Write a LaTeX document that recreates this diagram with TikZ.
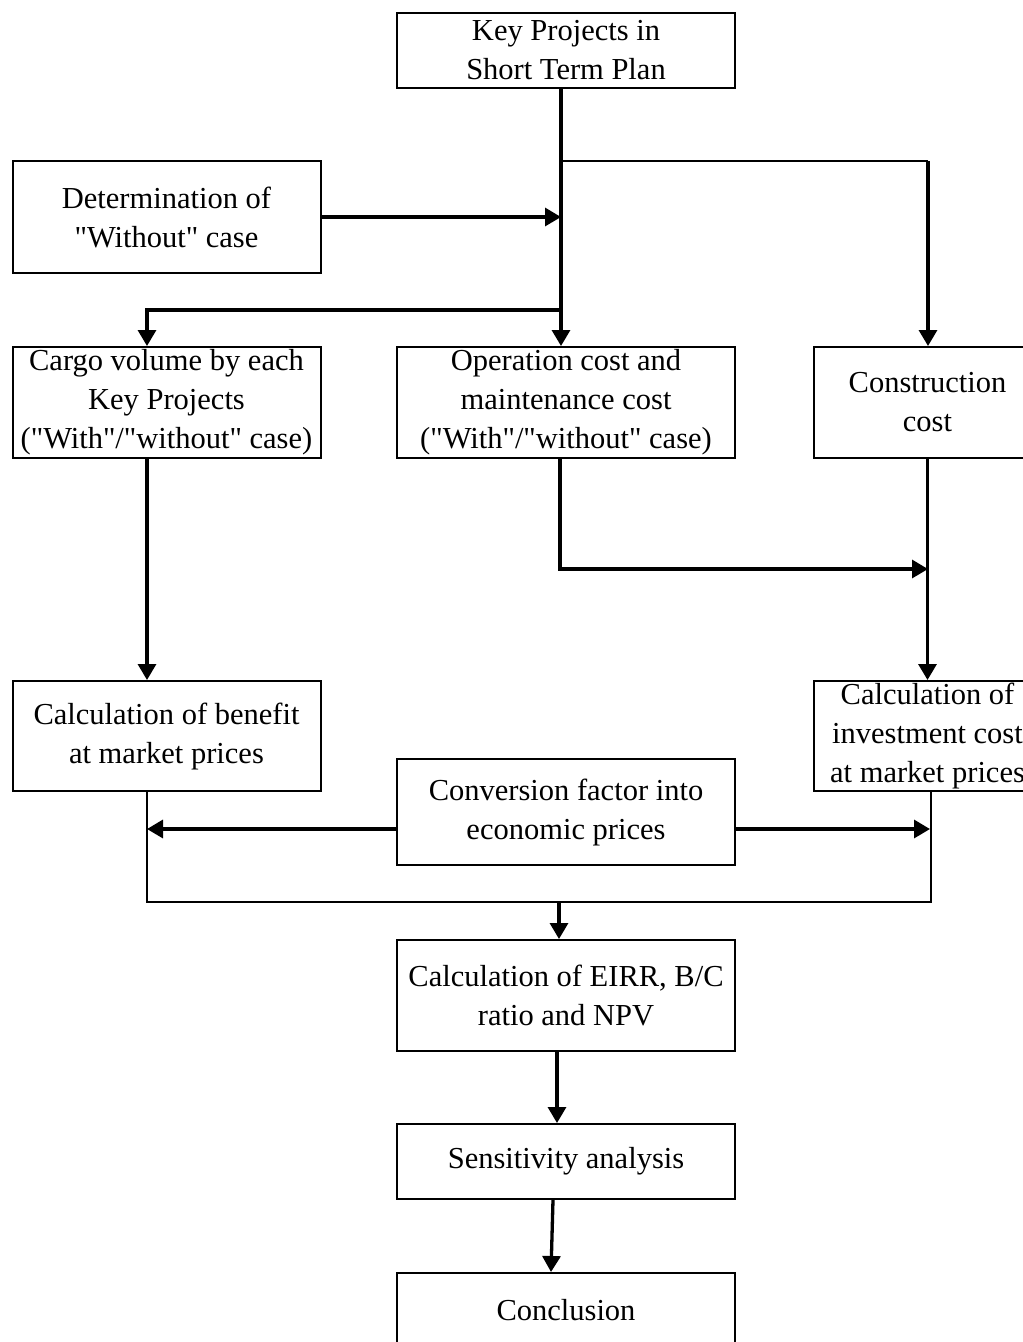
\documentclass[tikz,border=0pt]{standalone}
\usepackage{fontspec}
\setmainfont[Ligatures=TeXOff]{Liberation Serif}
\usetikzlibrary{arrows.meta}
\newcommand\dqt{\symbol{34}}
\begin{document}
\begin{tikzpicture}[x=1pt,y=-1pt,
  box/.style={draw=black,line width=2pt,rectangle,inner sep=0pt,align=center,
    font=\fontsize{30.5}{39}\selectfont},
  thk/.style={line width=3.3pt},
  thn/.style={line width=1.7pt},
  arr/.style={-{Triangle[length=16pt,width=18pt]}}]
\useasboundingbox (0,0) rectangle (1023,1342);
\node[box,minimum width=338pt,minimum height=75pt] (kp) at (566,50.5) {Key Projects in\\Short Term Plan};
\node[box,minimum width=308pt,minimum height=112pt] (det) at (166.5,217) {Determination of\\\dqt Without\dqt{} case};
\node[box,minimum width=308pt,minimum height=111pt] (cargo) at (166.5,402.5) {Cargo volume by each\\Key Projects\\(\dqt With\dqt/\dqt without\dqt{} case)};
\node[box,minimum width=338pt,minimum height=111pt] (op) at (566,402.5) {Operation cost and\\maintenance cost\\(\dqt With\dqt/\dqt without\dqt{} case)};
\node[box,minimum width=228pt,minimum height=111pt] (con) at (927.5,402.5) {Construction\\cost};
\node[box,minimum width=308pt,minimum height=110pt] (ben) at (166.5,736) {Calculation of benefit\\at market prices};
\node[box,minimum width=228pt,minimum height=110pt] (inv) at (927.5,736) {Calculation of\\investment cost\\at market prices};
\node[box,minimum width=338pt,minimum height=106pt] (conv) at (566,812) {Conversion factor into\\economic prices};
\node[box,minimum width=338pt,minimum height=111pt] (eirr) at (566,995.5) {Calculation of EIRR, B/C\\ratio and NPV};
\node[box,minimum width=338pt,minimum height=75pt] (sens) at (566,1161.5) {Sensitivity analysis};
\node[box,minimum width=338pt,minimum height=74pt] (concl) at (566,1310) {Conclusion};
% top trunk
\coordinate (j1) at (561,161);
\coordinate (j2) at (928,161);
\coordinate (j3) at (561,310);
\draw[thk,arr] ([xshift=-5pt]kp.south) -- ([xshift=-5pt]op.north);
\draw[thn] (j1) -- (j2);
\draw[thk,arr] (j2) -- (j2 |- con.north);
\draw[thk,arr] (det.east) -- (det.east -| j1);
\draw[thk,arr] (j3) -| ([xshift=-19.5pt]cargo.north);
\draw[thk,arr] ([xshift=-19.5pt]cargo.south) -- ([xshift=-19.5pt]ben.north);
% operation to investment
\coordinate (j4) at (928,569);
\draw[thk,arr] ([xshift=-6pt]op.south) |- (j4);
\draw[thk,arr] (con.south) -- (inv.north);
% conversion arrows
\coordinate (cl) at (147,829);
\coordinate (cr) at (930,829);
\draw[thk,arr] (conv.west |- cl) -- (cl);
\draw[thk,arr] (conv.east |- cr) -- (cr);
% merge
\coordinate (m1) at (147,902);
\coordinate (m2) at (931,902);
\coordinate (m3) at (559,902);
\draw[thn] ([xshift=-19.5pt]ben.south) -- (m1) -- (m2) -- (m2 |- inv.south);
\draw[thk,arr] (m3) -- (m3 |- eirr.north);
\draw[thk,arr] ([xshift=-9pt]eirr.south) -- ([xshift=-9pt]sens.north);
\draw[thk,arr] ([xshift=-13pt]sens.south) -- ([xshift=-15pt]concl.north);
\end{tikzpicture}
\end{document}
